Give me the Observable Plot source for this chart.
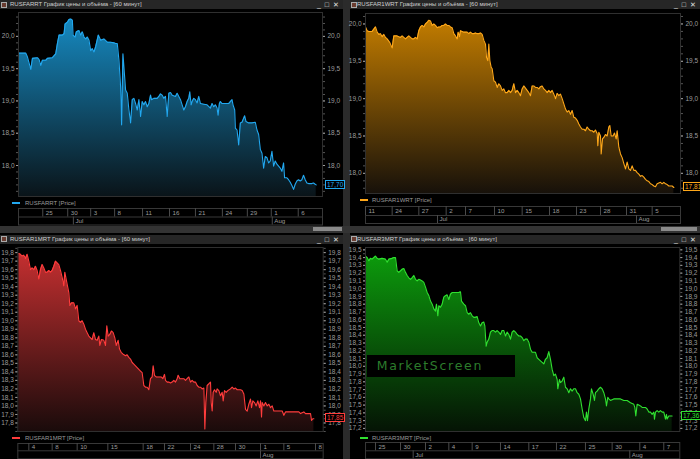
<!DOCTYPE html>
<html><head><meta charset="utf-8">
<script src="https://cdn.jsdelivr.net/npm/d3@7"></script>
<script src="https://cdn.jsdelivr.net/npm/@observablehq/plot@0.6"></script>
<style>
html,body{margin:0;padding:0;background:#000;}
#root{position:relative;width:700px;height:459px;background:#000;overflow:hidden;font-family:"Liberation Sans",Arial,sans-serif;}
.title{position:absolute;height:9px;background:#262626;color:#cfcfcf;font-size:6px;line-height:9px;white-space:nowrap;}
.legend{position:absolute;color:#9a9a9a;font-size:6px;line-height:8px;white-space:nowrap;}
.lastbox{position:absolute;font-size:6.5px;line-height:7px;height:7px;padding:0 1px;background:#000;white-space:nowrap;}
.wm{position:absolute;background:#000;color:#2c7c2c;font-family:"DejaVu Sans",sans-serif;font-size:12.5px;letter-spacing:1.7px;line-height:22px;white-space:nowrap;padding-left:10px;box-sizing:border-box;}
</style></head><body>
<svg width="0" height="0" style="position:absolute"><defs>
<linearGradient id="gBlue" x1="0" y1="0" x2="0" y2="1"><stop offset="0" stop-color="#1689c0"/><stop offset="1" stop-color="#0a1419"/></linearGradient>
<linearGradient id="gOrange" x1="0" y1="0" x2="0" y2="1"><stop offset="0" stop-color="#c27c00"/><stop offset="1" stop-color="#17110a"/></linearGradient>
<linearGradient id="gRed" x1="0" y1="0" x2="0" y2="1"><stop offset="0" stop-color="#c42f30"/><stop offset="1" stop-color="#1a0b0b"/></linearGradient>
<linearGradient id="gGreen" x1="0" y1="0" x2="0" y2="1"><stop offset="0" stop-color="#0c9a0c"/><stop offset="1" stop-color="#051405"/></linearGradient>
</defs></svg>
<div id="root"></div>
<script>
// ---------- DATA (bar position, price) ----------
const rusfarrt = [[8,19.74],[30,19.74],[35,19.68],[45,19.49],[50,19.66],[65,19.67],[70,19.64],[75,19.55],[80,19.63],[90,19.63],[95,19.66],[110,19.67],[120,19.73],[125,19.89],[130,20.02],[140,20.02],[145,20.04],[148,20.19],[155,20.22],[160,20.26],[165,20.27],[170,20.25],[172,20.02],[178,19.99],[182,20.07],[190,20.09],[195,20.02],[200,20.07],[205,19.99],[210,19.96],[215,19.99],[220,19.94],[225,19.78],[230,19.81],[235,19.76],[240,19.84],[248,20.02],[255,19.94],[265,19.96],[275,19.91],[285,19.91],[295,19.90],[300,19.89],[305,19.89],[310,19.63],[315,19.22],[318,18.63],[322,19.73],[326,19.45],[330,19.17],[335,19.12],[340,18.86],[345,18.66],[350,19.02],[355,19.04],[360,18.96],[365,18.86],[370,19.02],[375,18.76],[380,18.99],[385,18.94],[390,18.99],[395,18.91],[400,18.96],[405,19.09],[408,19.02],[415,19.04],[425,19.04],[430,19.07],[435,19.11],[440,19.09],[445,19.04],[450,19.07],[455,18.76],[460,19.12],[465,19.13],[470,19.09],[480,19.07],[485,19.12],[490,19.07],[495,19.02],[500,18.94],[505,18.86],[510,18.91],[515,18.99],[520,19.04],[523,19.14],[527,18.94],[530,18.99],[535,19.04],[540,19.02],[545,18.97],[550,19.07],[555,18.96],[565,18.95],[575,18.94],[585,18.89],[590,18.96],[595,18.91],[600,18.94],[605,18.89],[608,18.78],[612,18.96],[615,18.99],[620,18.96],[630,18.96],[640,18.96],[645,18.99],[650,19.02],[653,18.94],[658,18.86],[660,18.58],[665,18.55],[670,18.32],[675,18.66],[680,18.67],[688,18.77],[692,18.68],[700,18.66],[710,18.66],[720,18.67],[725,18.55],[730,18.48],[735,18.25],[740,18.19],[745,17.96],[750,18.14],[755,18.12],[760,18.04],[765,18.07],[770,18.22],[775,17.99],[780,18.07],[785,18.02],[790,17.99],[795,17.96],[800,17.91],[805,18.04],[808,17.81],[815,17.81],[820,17.78],[825,17.74],[830,17.69],[835,17.63],[840,17.71],[845,17.76],[850,17.78],[855,17.76],[860,17.78],[865,17.85],[870,17.78],[875,17.73],[880,17.72],[890,17.72],[895,17.73],[900,17.71],[903,17.70]];
const rusfar1wrt = [[15,19.96],[20,19.91],[25,19.90],[35,19.90],[45,19.96],[50,19.89],[55,19.86],[60,19.87],[65,19.83],[70,19.86],[75,19.82],[80,19.80],[88,19.75],[95,19.68],[100,19.84],[110,19.84],[115,19.83],[120,19.82],[125,19.84],[130,19.82],[135,19.80],[140,19.82],[145,19.84],[150,19.82],[155,19.80],[160,19.80],[165,19.82],[170,19.80],[175,19.91],[180,19.96],[185,19.98],[190,19.96],[195,20.00],[200,20.02],[205,20.05],[210,20.04],[215,19.98],[220,20.00],[225,19.98],[230,19.95],[235,19.96],[240,19.96],[245,19.98],[250,19.98],[255,20.00],[260,19.98],[265,19.98],[270,19.96],[275,19.95],[280,19.87],[285,19.84],[290,19.80],[293,19.89],[297,19.83],[300,19.91],[305,19.90],[310,19.89],[315,19.89],[320,19.89],[325,19.87],[330,19.89],[335,19.87],[340,19.87],[345,19.88],[350,19.87],[355,19.87],[360,19.88],[365,19.86],[370,19.78],[375,19.73],[378,19.55],[382,19.51],[385,19.73],[388,19.51],[392,19.42],[395,19.40],[400,19.24],[405,19.22],[410,19.15],[415,19.20],[420,19.17],[425,19.11],[430,19.13],[435,19.08],[440,19.08],[445,19.11],[450,19.08],[455,19.11],[460,19.20],[465,19.08],[470,19.11],[475,19.08],[480,19.04],[485,19.13],[490,19.17],[495,19.14],[500,19.11],[505,19.08],[510,19.04],[515,19.17],[520,19.17],[525,19.15],[530,19.15],[535,19.13],[540,19.16],[545,19.17],[550,19.13],[555,19.11],[560,19.08],[565,19.11],[570,19.08],[575,19.11],[580,19.06],[585,19.00],[590,19.07],[595,19.04],[600,19.06],[605,19.00],[610,18.93],[615,18.86],[620,18.82],[625,18.84],[630,18.79],[635,18.84],[640,18.75],[645,18.74],[650,18.71],[655,18.66],[660,18.62],[665,18.59],[670,18.59],[675,18.57],[680,18.62],[685,18.59],[690,18.57],[695,18.57],[700,18.55],[705,18.58],[710,18.53],[712,18.37],[715,18.55],[720,18.50],[722,18.26],[726,18.46],[730,18.48],[735,18.52],[740,18.50],[745,18.62],[748,18.64],[752,18.50],[758,18.50],[762,18.54],[767,18.46],[770,18.57],[775,18.35],[780,18.26],[785,18.21],[790,18.13],[795,18.06],[800,18.15],[805,18.06],[810,18.04],[815,18.10],[820,18.04],[825,18.04],[830,18.01],[835,17.99],[840,17.96],[845,17.97],[850,17.95],[855,17.92],[860,17.90],[865,17.89],[870,17.86],[875,17.85],[880,17.83],[885,17.82],[890,17.86],[895,17.87],[900,17.88],[905,17.86],[910,17.88],[915,17.86],[920,17.85],[925,17.83],[930,17.83],[935,17.83],[940,17.81]];
const rusfar1mrt = [[10,19.79],[15,19.78],[20,19.76],[25,19.77],[30,19.73],[35,19.78],[40,19.70],[45,19.60],[50,19.62],[55,19.60],[60,19.64],[65,19.59],[70,19.49],[75,19.60],[80,19.66],[85,19.62],[90,19.57],[95,19.57],[100,19.59],[105,19.57],[110,19.59],[115,19.64],[120,19.70],[125,19.68],[130,19.66],[135,19.59],[140,19.51],[145,19.41],[148,19.57],[152,19.49],[156,19.41],[160,19.33],[163,19.18],[168,19.21],[175,19.21],[180,19.14],[185,19.18],[190,19.00],[195,18.98],[200,19.00],[205,18.96],[210,18.90],[215,18.86],[220,18.82],[225,18.80],[230,18.78],[235,18.86],[240,18.78],[245,18.77],[250,18.82],[253,18.71],[258,18.78],[265,18.77],[270,18.71],[274,18.94],[278,18.82],[283,18.84],[288,18.88],[293,18.86],[298,18.80],[302,18.71],[308,18.77],[312,18.67],[317,18.63],[322,18.61],[330,18.59],[335,18.60],[340,18.57],[345,18.55],[350,18.51],[355,18.49],[360,18.47],[365,18.45],[370,18.43],[375,18.41],[380,18.39],[385,18.24],[390,18.22],[395,18.22],[400,18.19],[405,18.32],[410,18.34],[413,18.47],[417,18.36],[422,18.34],[430,18.34],[437,18.34],[442,18.32],[447,18.37],[450,18.30],[455,18.28],[460,18.28],[465,18.27],[470,18.28],[475,18.30],[480,18.28],[485,18.32],[488,18.36],[493,18.32],[500,18.32],[505,18.32],[510,18.30],[515,18.32],[520,18.34],[525,18.28],[530,18.30],[535,18.28],[540,18.28],[545,18.24],[550,18.22],[555,18.22],[560,18.20],[565,18.21],[568,17.73],[571,18.04],[575,18.24],[580,18.26],[585,18.28],[587,18.04],[590,17.94],[593,18.16],[597,18.19],[602,18.16],[605,18.20],[610,18.18],[615,18.12],[620,18.16],[623,18.06],[627,18.18],[632,18.16],[637,18.18],[645,18.20],[650,18.22],[655,18.20],[660,18.21],[665,18.19],[670,18.19],[675,18.19],[680,18.18],[685,18.14],[690,17.96],[695,17.94],[700,18.02],[705,18.08],[708,17.98],[712,18.06],[717,18.04],[722,18.00],[727,18.06],[732,17.98],[735,18.06],[738,17.87],[740,18.04],[745,18.00],[750,18.04],[755,18.00],[760,18.02],[765,17.98],[770,18.00],[775,17.94],[780,17.94],[790,17.94],[800,17.94],[805,17.89],[810,17.93],[815,17.93],[830,17.93],[850,17.93],[855,17.91],[860,17.92],[865,17.93],[870,17.91],[885,17.91],[888,17.83],[892,17.85],[895,17.85]];
const rusfar3mrt = [[15,19.42],[20,19.40],[25,19.36],[30,19.39],[35,19.38],[40,19.40],[45,19.42],[50,19.39],[55,19.38],[65,19.39],[75,19.38],[80,19.34],[85,19.38],[95,19.39],[100,19.40],[105,19.40],[110,19.23],[115,19.21],[120,19.23],[125,19.25],[130,19.26],[135,19.21],[140,19.17],[145,19.14],[150,19.12],[155,19.14],[160,19.17],[165,19.12],[170,19.10],[175,19.12],[180,19.11],[185,19.10],[190,19.08],[195,19.02],[200,18.95],[205,18.91],[210,18.84],[215,18.80],[220,18.74],[225,18.71],[228,18.80],[232,18.65],[235,18.78],[240,18.76],[245,18.80],[250,18.89],[255,18.91],[260,18.92],[265,18.86],[270,18.93],[275,18.95],[285,18.95],[295,18.95],[300,18.96],[303,18.84],[310,18.80],[315,18.78],[320,18.69],[325,18.67],[330,18.69],[335,18.65],[340,18.63],[345,18.63],[350,18.64],[355,18.56],[360,18.52],[365,18.56],[370,18.57],[373,18.52],[377,18.26],[380,18.31],[385,18.35],[390,18.44],[395,18.46],[400,18.46],[405,18.44],[410,18.46],[415,18.44],[420,18.41],[425,18.46],[430,18.46],[435,18.39],[440,18.44],[445,18.41],[450,18.35],[455,18.44],[460,18.46],[465,18.44],[470,18.41],[475,18.39],[480,18.39],[485,18.37],[490,18.33],[495,18.35],[500,18.35],[505,18.31],[510,18.22],[515,18.18],[520,18.18],[525,18.18],[530,18.11],[535,18.09],[540,18.07],[545,18.05],[550,18.03],[555,18.09],[560,18.11],[565,18.19],[570,18.09],[575,17.96],[580,17.88],[585,17.90],[590,17.83],[592,17.71],[597,17.83],[600,17.79],[605,17.81],[610,17.86],[615,17.73],[620,17.71],[625,17.66],[630,17.71],[635,17.68],[640,17.71],[645,17.71],[650,17.66],[655,17.64],[660,17.58],[665,17.45],[670,17.34],[675,17.30],[678,17.41],[681,17.30],[685,17.45],[690,17.58],[693,17.71],[698,17.64],[702,17.56],[705,17.66],[710,17.68],[715,17.71],[720,17.73],[725,17.71],[730,17.66],[735,17.58],[738,17.49],[742,17.60],[745,17.58],[750,17.56],[760,17.58],[770,17.58],[780,17.58],[790,17.56],[800,17.56],[810,17.53],[820,17.51],[823,17.47],[826,17.36],[830,17.51],[835,17.50],[840,17.49],[845,17.47],[855,17.47],[860,17.45],[865,17.41],[870,17.41],[875,17.38],[880,17.41],[882,17.32],[885,17.41],[890,17.43],[895,17.41],[900,17.43],[905,17.41],[910,17.41],[915,17.32],[918,17.38],[920,17.32],[925,17.36],[930,17.36],[935,17.36]];

// y-axis tick labels
const p1YTicks = [18.0, 18.5, 19.0, 19.5, 20.0];
const p2YTicks = [18.0, 18.5, 19.0, 19.5, 20.0];
const p3YTicks = [17.8,17.9,18.0,18.1,18.2,18.3,18.4,18.5,18.6,18.7,18.8,18.9,19.0,19.1,19.2,19.3,19.4,19.5,19.6,19.7,19.8];
const p4YTicks = [17.2,17.3,17.4,17.5,17.6,17.7,17.8,17.9,18.0,18.1,18.2,18.3,18.4,18.5,18.6,18.7,18.8,18.9,19.0,19.1,19.2,19.3,19.4,19.5];

// date axis: tick bar positions and labels
const p1DateBars = [81,156,225,297,381,462,540,621,696,768,849];
const p1DateLabels = ["25","30","3","8","11","16","21","24","29","1","6"];
const p1MonthBars = [173,771];
const p1MonthLabels = ["Jul","Aug"];
const p2DateBars = [15,95,175,257,315,402,485,567,648,720,798,875];
const p2DateLabels = ["11","24","27","2","7","10","15","18","23","28","31","5"];
const p2MonthBars = [231,828];
const p2MonthLabels = ["Jul","Aug"];
const p3DateBars = [40,110,185,277,383,447,525,595,660,735,805,900];
const p3DateLabels = ["4","8","10","15","18","22","24","28","30","1","5","8"];
const p3MonthBars = [735];
const p3MonthLabels = ["Aug"];
const p4DateBars = [45,120,195,265,335,420,505,588,675,755,838,910];
const p4DateLabels = ["25","30","2","4","9","14","17","22","25","30","4","7"];
const p4MonthBars = [158,808];
const p4MonthLabels = ["Jul","Aug"];

// ---------- RENDER ----------
const root = document.getElementById("root");
const fmt = d => d.toFixed(1).replace(".", ",");
function div(cls, x, y, w, h, bg, html) {
  const d = document.createElement("div");
  if (cls) d.className = cls;
  d.style.position = "absolute";
  d.style.left = x + "px"; d.style.top = y + "px";
  if (w != null) d.style.width = w + "px";
  if (h != null) d.style.height = h + "px";
  if (bg) d.style.background = bg;
  if (html != null) d.innerHTML = html;
  root.appendChild(d);
  return d;
}
function place(node, x, y) {
  node.style.position = "absolute"; node.style.left = x + "px"; node.style.top = y + "px";
  root.appendChild(node);
}

const panels = [
  {name:"RUSFARRT", data:rusfarrt, color:"#22a8f0", grad:"gBlue", px:0, pw:343, titleY:0, titleX:10,
   fl:18, fr:322, ft:12, fb:196, xd:[8,922], yd:[17.52,20.37], yt:p1YTicks, minorStep:0.1,
   dBars:p1DateBars, dLabels:p1DateLabels, mBars:p1MonthBars, mLabels:p1MonthLabels,
   legY:199, dTop:207.5, dMid:216, dBot:224, boxX:325, lineX:12, legTextX:25},
  {name:"RUSFAR1WRT", data:rusfar1wrt, color:"#ffa81a", grad:"gOrange", px:350, pw:350, titleY:0, titleX:357,
   fl:365, fr:680, ft:12.7, fb:192.7, xd:[15,960], yd:[17.73,20.14], yt:p2YTicks, minorStep:0.1,
   dBars:p2DateBars, dLabels:p2DateLabels, mBars:p2MonthBars, mLabels:p2MonthLabels,
   legY:196, dTop:206, dMid:215, dBot:223, boxX:683, lineX:360, legTextX:372},
  {name:"RUSFAR1MRT", data:rusfar1mrt, color:"#ff3c3c", grad:"gRed", px:0, pw:343, titleY:234.5, titleX:10,
   fl:17.3, fr:322.7, ft:246.7, fb:430.7, xd:[7,923], yd:[17.70,19.86], yt:p3YTicks, minorStep:0.05,
   dBars:p3DateBars, dLabels:p3DateLabels, mBars:p3MonthBars, mLabels:p3MonthLabels,
   legY:433.5, dTop:442.7, dMid:450, dBot:458, boxX:325, lineX:12, legTextX:25},
  {name:"RUSFAR3MRT", data:rusfar3mrt, color:"#30e030", grad:"gGreen", px:350, pw:350, titleY:234.5, titleX:357,
   fl:365, fr:679.3, ft:246.7, fb:430.7, xd:[15,958], yd:[17.16,19.53], yt:p4YTicks, minorStep:0.05,
   dBars:p4DateBars, dLabels:p4DateLabels, mBars:p4MonthBars, mLabels:p4MonthLabels,
   legY:433.5, dTop:441.7, dMid:450, dBot:458, boxX:681, lineX:360, legTextX:372}
];

// separators / scroll bars
div(null, 343, 0, 7, 459, "#2b2b2b");
div(null, 0, 225.5, 700, 7, "#333");
div(null, 313, 226.5, 29, 4, "#8a8a8a");
div(null, 661, 226.5, 36, 4, "#8a8a8a");

const axisStyle = {background:"transparent", color:"#9c9c9c", fontFamily:"Liberation Sans, Arial, sans-serif", fontSize:"6.5px", overflow:"visible"};

for (const p of panels) {
  // title bar
  div("title", p.px, p.titleY, p.pw, 9, null, "");
  const icon = div(null, p.px + 1, p.titleY + 1.5, 6, 6, "#6a3c30");
  icon.style.border = "0.5px solid #aaa"; icon.style.boxSizing = "border-box";
  div("title", p.titleX, p.titleY, null, 9, "transparent", p.name + " График цены и объёма - [60 минут]");
  const ctr = div("title", p.px + p.pw - 26, p.titleY, null, 9, "transparent", "_&nbsp;&nbsp;□&nbsp;&nbsp;✕");
  ctr.style.fontSize = "7px"; ctr.style.color = "#e0e0e0";

  // main chart
  const mt = 4, mb = 4;
  const y0 = p.yd[0];
  const minor = d3.range(Math.ceil(p.yd[0] / p.minorStep) * p.minorStep, p.yd[1], p.minorStep);
  const chart = Plot.plot({
    width: p.pw,
    height: (p.fb - p.ft) + mt + mb,
    marginLeft: p.fl - p.px, marginRight: p.px + p.pw - p.fr, marginTop: mt, marginBottom: mb,
    x: {domain: p.xd, axis: null},
    y: {domain: p.yd, axis: null},
    style: axisStyle,
    marks: [
      Plot.areaY(p.data, {x: d => d[0], y1: y0, y2: d => d[1], fill: `url(#${p.grad})`}),
      Plot.lineY(p.data, {x: d => d[0], y: d => d[1], stroke: p.color, strokeWidth: 1.1}),
      Plot.frame({stroke: "#2f2f2f"}),
      Plot.axisY(minor, {anchor: "left", tickSize: 2, tickFormat: () => "", label: null, stroke: "#555"}),
      Plot.axisY(minor, {anchor: "right", tickSize: 2, tickFormat: () => "", label: null, stroke: "#555"}),
      Plot.axisY(p.yt, {anchor: "left", tickSize: 2, tickPadding: 2, tickFormat: fmt, label: null, fontSize: 6.5}),
      Plot.axisY(p.yt, {anchor: "right", tickSize: 2, tickPadding: 3, tickFormat: fmt, label: null, fontSize: 6.5})
    ]
  });
  const svgTop = p.ft - mt;
  place(chart, p.px, svgTop);

  // last value label
  const last = p.data[p.data.length - 1][1];
  const ly = chart.scale("y").apply(last) + svgTop;
  const lb = div("lastbox", p.boxX, ly - 4.5, null, null, null, last.toFixed(2).replace(".", ","));
  lb.style.color = p.color; lb.style.border = "0.7px solid " + p.color;

  // legend
  div(null, p.lineX, p.legY + 3.3, 8, 2, p.color);
  div("legend", p.legTextX, p.legY, null, null, null, p.name + " [Price]");

  // date axis (two rows)
  const dh = p.dBot - p.dTop;
  const rowSplit = (p.dMid - p.dTop) / dh * 2;
  const dates = p.dBars.map((b, i) => ({b, label: p.dLabels[i]}));
  const months = p.mBars.map((b, i) => ({b, label: p.mLabels[i]}));
  const dateChart = Plot.plot({
    width: p.pw, height: dh + 2,
    marginLeft: p.fl - p.px, marginRight: p.px + p.pw - p.fr, marginTop: 1, marginBottom: 1,
    x: {domain: p.xd, axis: null},
    y: {domain: [0, 2], range: [1, dh + 1], axis: null},
    style: {...axisStyle, fontSize: "6.2px"},
    marks: [
      Plot.frame({stroke: "#383838"}),
      Plot.ruleY([rowSplit], {stroke: "#383838"}),
      Plot.ruleX(dates, {x: "b", y1: 0, y2: rowSplit, stroke: "#4a4a4a"}),
      Plot.text(dates, {x: "b", y: rowSplit / 2, text: "label", textAnchor: "start", dx: 3, fill: "#9c9c9c"}),
      Plot.ruleX(months, {x: "b", y1: rowSplit, y2: 2, stroke: "#4a4a4a"}),
      Plot.text(months, {x: "b", y: (rowSplit + 2) / 2, text: "label", textAnchor: "start", dx: 2, fill: "#9c9c9c"})
    ]
  });
  place(dateChart, p.px, p.dTop - 1);
}

// watermark
div("wm", 366.7, 355, 148, 22, null, "MarketScreen");
</script>
</body></html>
